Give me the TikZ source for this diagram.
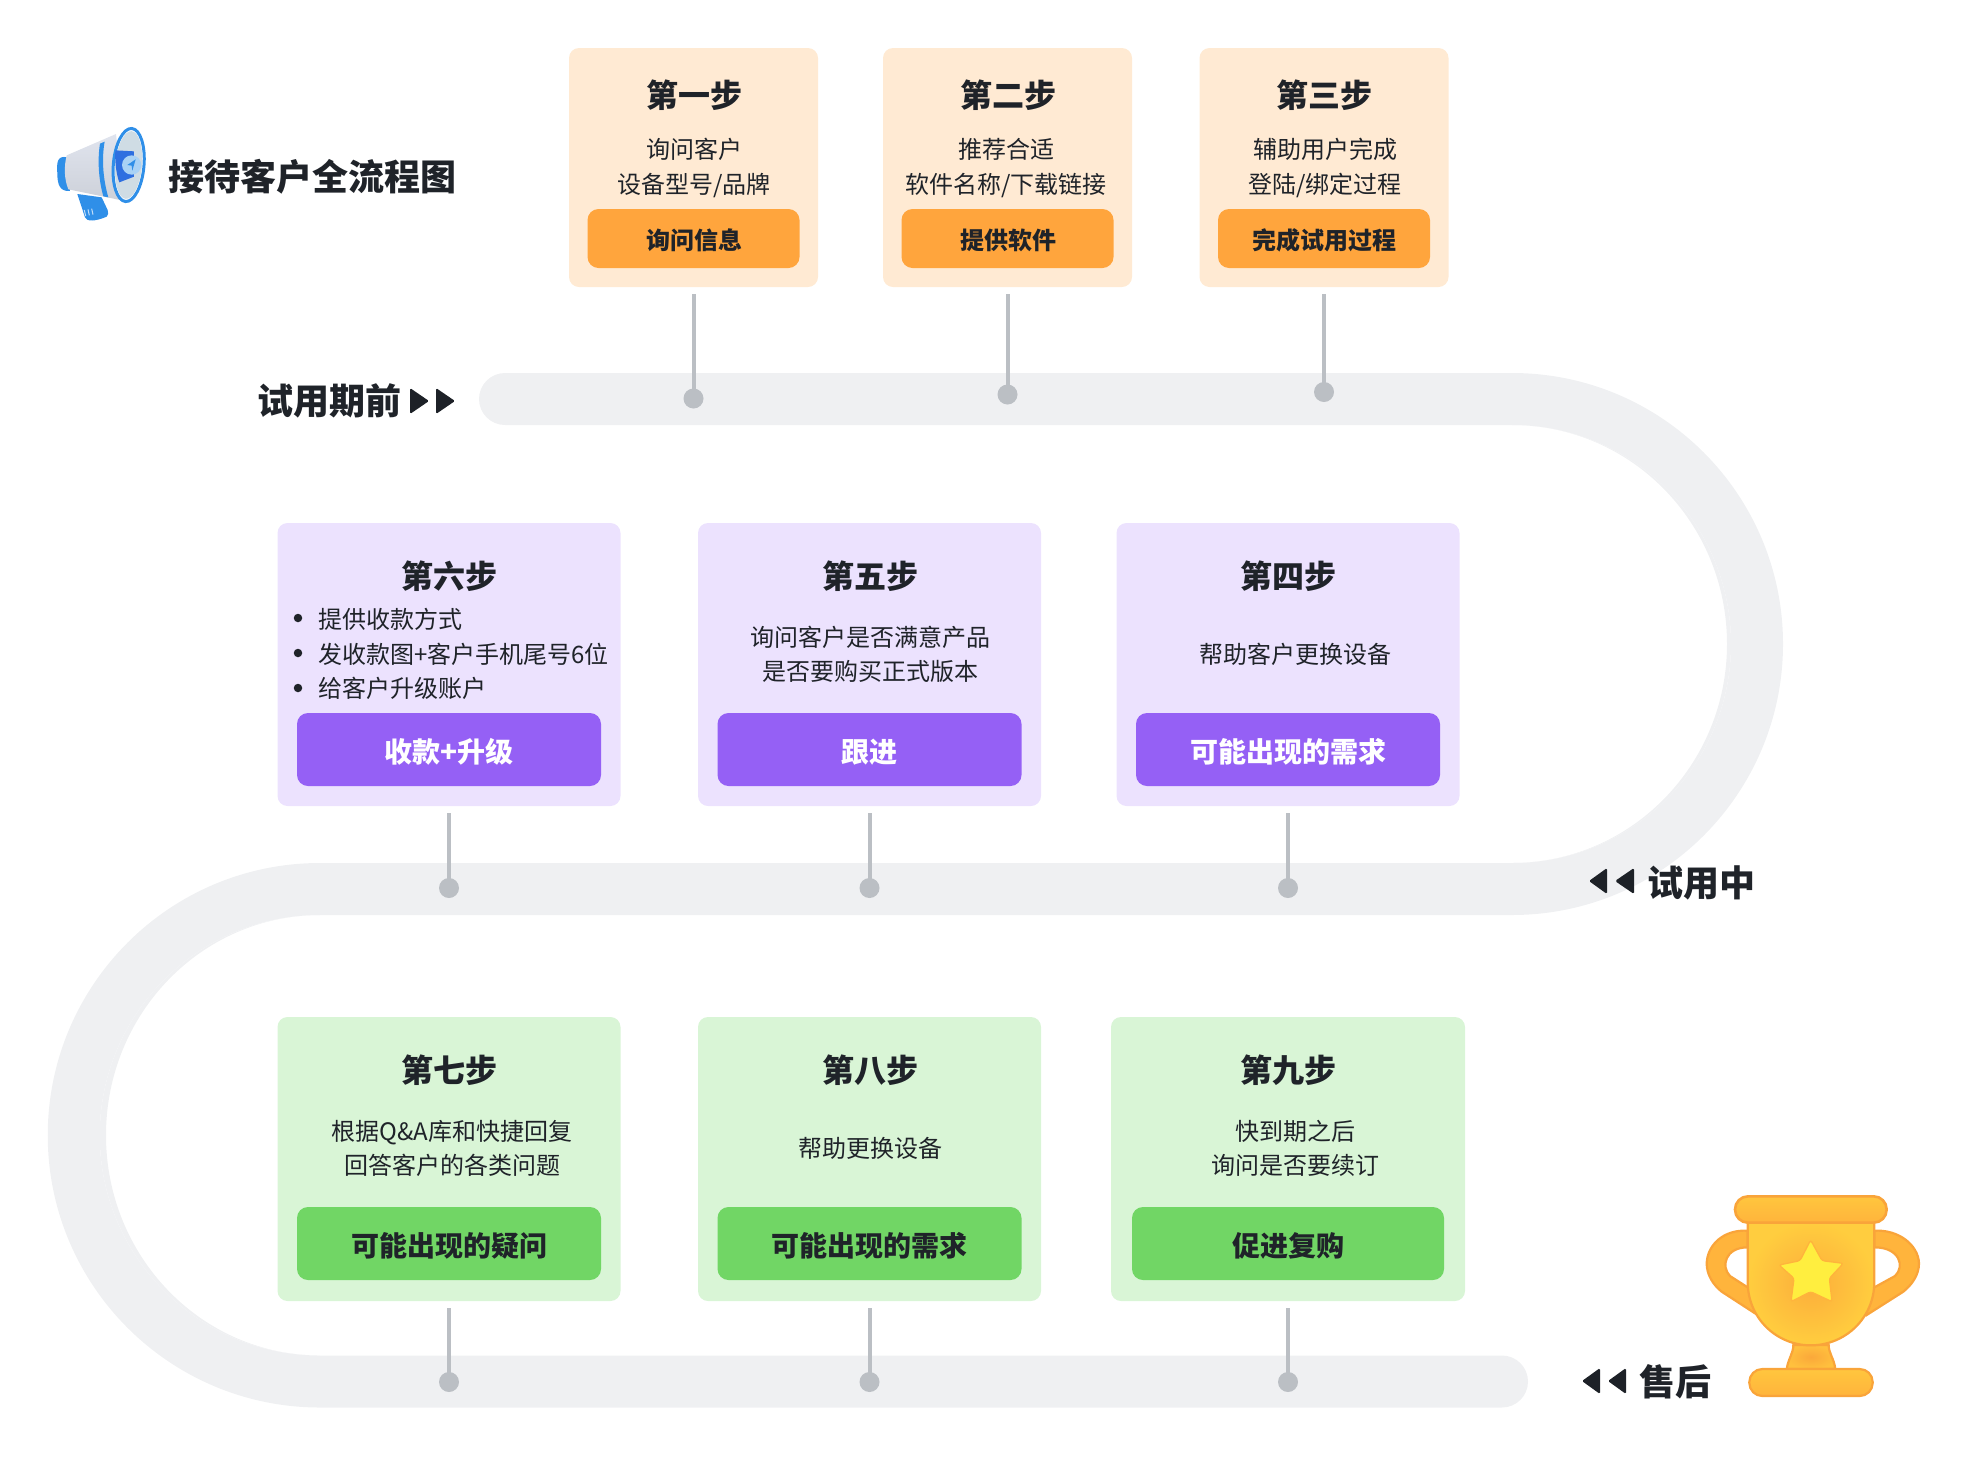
\documentclass[tikz,border=0pt]{standalone}
\usepackage{fontspec}
\setmainfont{Noto Sans CJK SC}
\usetikzlibrary{calc}
\definecolor{ink}{HTML}{1F2329}
\definecolor{tracktone}{HTML}{EFF0F2}
\definecolor{pin}{HTML}{BBBFC4}
\definecolor{peach}{HTML}{FFEAD3}
\definecolor{amber}{HTML}{FFA53D}
\definecolor{lilac}{HTML}{ECE2FE}
\definecolor{violet}{HTML}{9560F5}
\definecolor{mint}{HTML}{D9F5D6}
\definecolor{leaf}{HTML}{71D665}
\definecolor{gold}{HTML}{F9A43A}
\definecolor{goldhi}{HTML}{FFD23F}
\definecolor{goldmid}{HTML}{FFB43C}
\definecolor{mblue}{HTML}{2F8FE8}
\definecolor{mdeep}{HTML}{2E6FE0}
\definecolor{mtop}{HTML}{E0E4EE}
\definecolor{mmid}{HTML}{F4F5F7}
\definecolor{mlow}{HTML}{CDD1D9}
\definecolor{minner}{HTML}{CFDCE4}
\definecolor{mface}{HTML}{A9D2F5}
\definecolor{stary}{HTML}{FFEE3F}
\tikzset{
  cardbox/.style={rectangle,rounded corners=10pt,inner sep=0,draw=none},
  btnbox/.style={rectangle,rounded corners=11pt,inner sep=0,draw=none},
  ttl/.style={font=\fontsize{32}{32}\selectfont\bfseries,text=ink,inner sep=0,text height=28.2pt,text depth=3.8pt},
  bodytext/.style={font=\fontsize{24}{24}\selectfont,text=ink,inner sep=0,text height=21.1pt,text depth=2.9pt},
  smallbtn/.style={font=\fontsize{24}{24}\selectfont\bfseries,text=ink,inner sep=0,text height=21.1pt,text depth=2.9pt},
  bigbtn/.style={font=\fontsize{28}{28}\selectfont\bfseries,inner sep=0,text height=24.6pt,text depth=3.4pt},
  phase/.style={font=\fontsize{36}{36}\selectfont\bfseries,text=ink,inner sep=0,text height=31.7pt,text depth=4.3pt},
  pindot/.style={circle,fill=pin,inner sep=0,minimum size=20pt},
  conn/.style={draw=pin,line width=4pt,shorten <=7pt},
  tri/.style={fill=ink!95!black,rounded corners=1.5pt},
  bull/.style={circle,fill=ink,inner sep=0,minimum size=8.5pt},
  goldline/.style={draw=gold,line width=2.2pt},
}
\begin{document}
\begin{tikzpicture}[x=1pt,y=-1pt]
\useasboundingbox (0,0) rectangle (1974,1476);

% track
\draw[tracktone,line width=52pt,line cap=round]
  (505,399) -- (1512,399) arc[start angle=-90,end angle=90,radius=245]
  -- (320,889) arc[start angle=-90,end angle=-270,radius=246.25] -- (1502,1381.5);
\fill[tracktone] (1512,425) arc[start angle=-90,end angle=90,radius=219]
  arc[start angle=90,end angle=-90,x radius=215,y radius=219] -- cycle;
\fill[tracktone] (320,915) arc[start angle=-90,end angle=-270,radius=220.25]
  arc[start angle=-270,end angle=-90,x radius=214,y radius=220.25] -- cycle;

% header
\node[anchor=west,font=\fontsize{36}{36}\selectfont\bfseries,text=ink,inner sep=0,text height=31.7pt,text depth=4.3pt] (title) at (168,176.5) {接待客户全流程图};

% megaphone
\begin{scope}[shift={(40,110)},scale=1/3]
  \fill[mblue] (112,252) -- (135,322) .. controls (140,335) and (165,335) .. (200,320) .. controls (206,316) and (205,308) .. (203,300) -- (185,262) -- cycle;
  \draw[white!70!mblue,line width=1pt] (137,318) -- (133,300) (148,316) -- (144,298) (159,314) -- (155,296);
  \fill[mblue] (82,142) .. controls (50,135) and (50,160) .. (52,190) .. controls (52,225) and (60,245) .. (90,243) -- cycle;
  \shade[top color=mtop,middle color=mmid,bottom color=mlow]
     (80,136) -- (228,72) -- (250,272) -- (85,238) .. controls (72,205) and (72,170) .. (80,136) -- cycle;
  \fill[mblue] (180,101) -- (194,95) .. controls (184,150) and (190,210) .. (205,262) -- (190,259) .. controls (176,210) and (172,150) .. (180,101) -- cycle;
  \filldraw[fill=white,draw=mblue,line width=3pt,rotate around={-5:(266,165)}] (266,165) ellipse [x radius=46,y radius=110];
  \fill[minner,rotate around={-5:(266,165)}] (266,165) ellipse [x radius=40,y radius=102];
  \fill[mdeep] (226,121) -- (282,124) -- (282,200) -- (238,217) .. controls (228,190) and (224,150) .. (226,121) -- cycle;
  \fill[mface] (275,165) circle [radius=29];
  \fill[mblue] (287,148) -- (262,165) -- (275,167) -- (277,182) -- cycle;
\end{scope}

% trophy
\begin{scope}[shift={(1600,1150)},scale=1/3]
  \filldraw[goldline,fill=goldmid]
    (443,242) .. controls (370,238) and (322,285) .. (320,340)
    .. controls (320,375) and (340,405) .. (365,425) -- (465,490) -- (470,420) -- (443,412)
    -- (390,378) .. controls (362,350) and (375,292) .. (443,292) -- cycle;
  \filldraw[goldline,fill=goldmid]
    (823,242) .. controls (896,238) and (955,285) .. (957,340)
    .. controls (957,375) and (935,405) .. (910,425) -- (800,495) -- (790,420) -- (823,412)
    -- (885,378) .. controls (915,350) and (900,292) .. (823,292) -- cycle;
  \shade[inner color=gold!75!goldmid,outer color=goldmid!60!goldhi,draw=gold,line width=2.2pt]
    (560,657) .. controls (565,625) and (580,610) .. (580,585) -- (686,585) .. controls (686,610) and (702,625) .. (706,657) -- cycle;
  \shade[inner color=gold!45!goldmid,outer color=goldhi!85!goldmid,draw=gold,line width=2.2pt]
    (443,215) -- (443,395) .. controls (443,505) and (530,586) .. (632,586)
    .. controls (735,586) and (823,505) .. (823,395) -- (823,215) -- cycle;
  \shade[top color=goldhi!60!goldmid,bottom color=goldmid,draw=gold,line width=2.6pt,rounded corners=13pt]
    (405,139) rectangle (860,218);
  \shade[top color=goldhi!60!goldmid,bottom color=goldmid,draw=gold,line width=2.2pt,rounded corners=13pt]
    (448,657) rectangle (818,738);
  \filldraw[fill=stary,draw=goldmid,line width=1.3pt,rounded corners=2.5pt]
    (632,270) -- (666,332) -- (730,340) -- (688,385) -- (696,455) -- (632,425) -- (573,455) -- (582,385) -- (537,345) -- (600,332) -- cycle;
\end{scope}

% phase labels and triangles
\node[anchor=west,phase] (phase1) at (257,401) {试用期前};
\fill[tri] (410,388) -- (429,401) -- (410,414) -- cycle;
\fill[tri] (436,388) -- (455,401) -- (436,414) -- cycle;

\fill[tri] (1589,881) -- (1607,868) -- (1607,894) -- cycle;
\fill[tri] (1615,881) -- (1634,868) -- (1634,894) -- cycle;
\node[anchor=west,phase] (phase2) at (1647,883) {试用中};

\fill[tri] (1582,1381) -- (1600,1368) -- (1600,1394) -- cycle;
\fill[tri] (1608,1381) -- (1626,1368) -- (1626,1394) -- cycle;
\node[anchor=west,phase] (phase3) at (1639.5,1382) {售后};

% row 1 cards
\node[cardbox,fill=peach,minimum width=249pt,minimum height=239pt] (c1) at (693.5,167.5) {};
\node[cardbox,fill=peach,minimum width=249pt,minimum height=239pt] (c2) at (1007.5,167.5) {};
\node[cardbox,fill=peach,minimum width=249pt,minimum height=239pt] (c3) at (1324,167.5) {};
\node[btnbox,fill=amber,minimum width=212pt,minimum height=59pt] (b1) at (693.5,238.5) {};
\node[btnbox,fill=amber,minimum width=212pt,minimum height=59pt] (b2) at (1007.5,238.5) {};
\node[btnbox,fill=amber,minimum width=212pt,minimum height=59pt] (b3) at (1324,238.5) {};
\node[ttl] (t1) at (694,95) {第一步};
\node[ttl] (t2) at (1008,95) {第二步};
\node[ttl] (t3) at (1324.5,95) {第三步};
\node[bodytext] (t1a) at (694,149) {询问客户};
\node[bodytext] (t1b) at (694,184) {设备型号/品牌};
\node[bodytext] (t2a) at (1006,149) {推荐合适};
\node[bodytext] (t2b) at (1006,184) {软件名称/下载链接};
\node[bodytext] (t3a) at (1325,149) {辅助用户完成};
\node[bodytext] (t3b) at (1325,184) {登陆/绑定过程};
\node[smallbtn] (l1) at (694,240) {询问信息};
\node[smallbtn] (l2) at (1008,240) {提供软件};
\node[smallbtn] (l3) at (1324.5,240) {完成试用过程};

% row 2 cards
\node[cardbox,fill=lilac,minimum width=343pt,minimum height=283pt] (c6) at (449,664.5) {};
\node[cardbox,fill=lilac,minimum width=343pt,minimum height=283pt] (c5) at (869.5,664.5) {};
\node[cardbox,fill=lilac,minimum width=343pt,minimum height=283pt] (c4) at (1288,664.5) {};
\node[btnbox,fill=violet,minimum width=304pt,minimum height=73pt] (b6) at (449,749.5) {};
\node[btnbox,fill=violet,minimum width=304pt,minimum height=73pt] (b5) at (869.5,749.5) {};
\node[btnbox,fill=violet,minimum width=304pt,minimum height=73pt] (b4) at (1288,749.5) {};
\node[ttl] (t6) at (449.5,576) {第六步};
\node[ttl] (t5) at (870,576) {第五步};
\node[ttl] (t4) at (1288.5,576) {第四步};
\node[bull] (u1) at (298,618) {};
\node[bull] (u2) at (298,653) {};
\node[bull] (u3) at (298,688) {};
\node[bodytext,anchor=west] (t6a) at (318,619) {提供收款方式};
\node[bodytext,anchor=west] (t6b) at (318,654) {发收款图+客户手机尾号6位};
\node[bodytext,anchor=west] (t6c) at (318,688.5) {给客户升级账户};
\node[bodytext] (t5a) at (870.5,637) {询问客户是否满意产品};
\node[bodytext] (t5b) at (870.5,671.5) {是否要购买正式版本};
\node[bodytext] (t4a) at (1295,654) {帮助客户更换设备};
\node[bigbtn,text=white] (l6) at (449,752) {收款+升级};
\node[bigbtn,text=white] (l5) at (869.5,752) {跟进};
\node[bigbtn,text=white] (l4) at (1288,752) {可能出现的需求};

% row 3 cards
\node[cardbox,fill=mint,minimum width=343pt,minimum height=284pt] (c7) at (449,1159) {};
\node[cardbox,fill=mint,minimum width=343pt,minimum height=284pt] (c8) at (869.5,1159) {};
\node[cardbox,fill=mint,minimum width=354pt,minimum height=284pt] (c9) at (1288,1159) {};
\node[btnbox,fill=leaf,minimum width=304pt,minimum height=73pt] (b7) at (449,1243.5) {};
\node[btnbox,fill=leaf,minimum width=304pt,minimum height=73pt] (b8) at (869.5,1243.5) {};
\node[btnbox,fill=leaf,minimum width=312pt,minimum height=73pt] (b9) at (1288,1243.5) {};
\node[ttl] (t7) at (449.5,1070) {第七步};
\node[ttl] (t8) at (870,1070) {第八步};
\node[ttl] (t9) at (1288.5,1070) {第九步};
\node[bodytext] (t7a) at (452,1131) {根据Q\&A库和快捷回复};
\node[bodytext] (t7b) at (452,1165.5) {回答客户的各类问题};
\node[bodytext] (t8a) at (870.5,1148) {帮助更换设备};
\node[bodytext] (t9a) at (1295,1131) {快到期之后};
\node[bodytext] (t9b) at (1295,1165.5) {询问是否要续订};
\node[bigbtn,text=ink] (l7) at (449,1246) {可能出现的疑问};
\node[bigbtn,text=ink] (l8) at (869.5,1246) {可能出现的需求};
\node[bigbtn,text=ink] (l9) at (1288,1246) {促进复购};

% dots
\node[pindot] (d1) at (693.5,398.5) {};
\node[pindot] (d2) at (1007.5,394.5) {};
\node[pindot] (d3) at (1324,392) {};
\node[pindot] (d6) at (449,888) {};
\node[pindot] (d5) at (869.5,888) {};
\node[pindot] (d4) at (1288,888) {};
\node[pindot] (d7) at (449,1382) {};
\node[pindot] (d8) at (869.5,1382) {};
\node[pindot] (d9) at (1288,1382) {};

% connectors
\foreach \a/\b in {c1/d1,c2/d2,c3/d3,c6/d6,c5/d5,c4/d4,c7/d7,c8/d8,c9/d9}
  \draw[conn] (\a.south) -- (\b.center);
\end{tikzpicture}
\end{document}
